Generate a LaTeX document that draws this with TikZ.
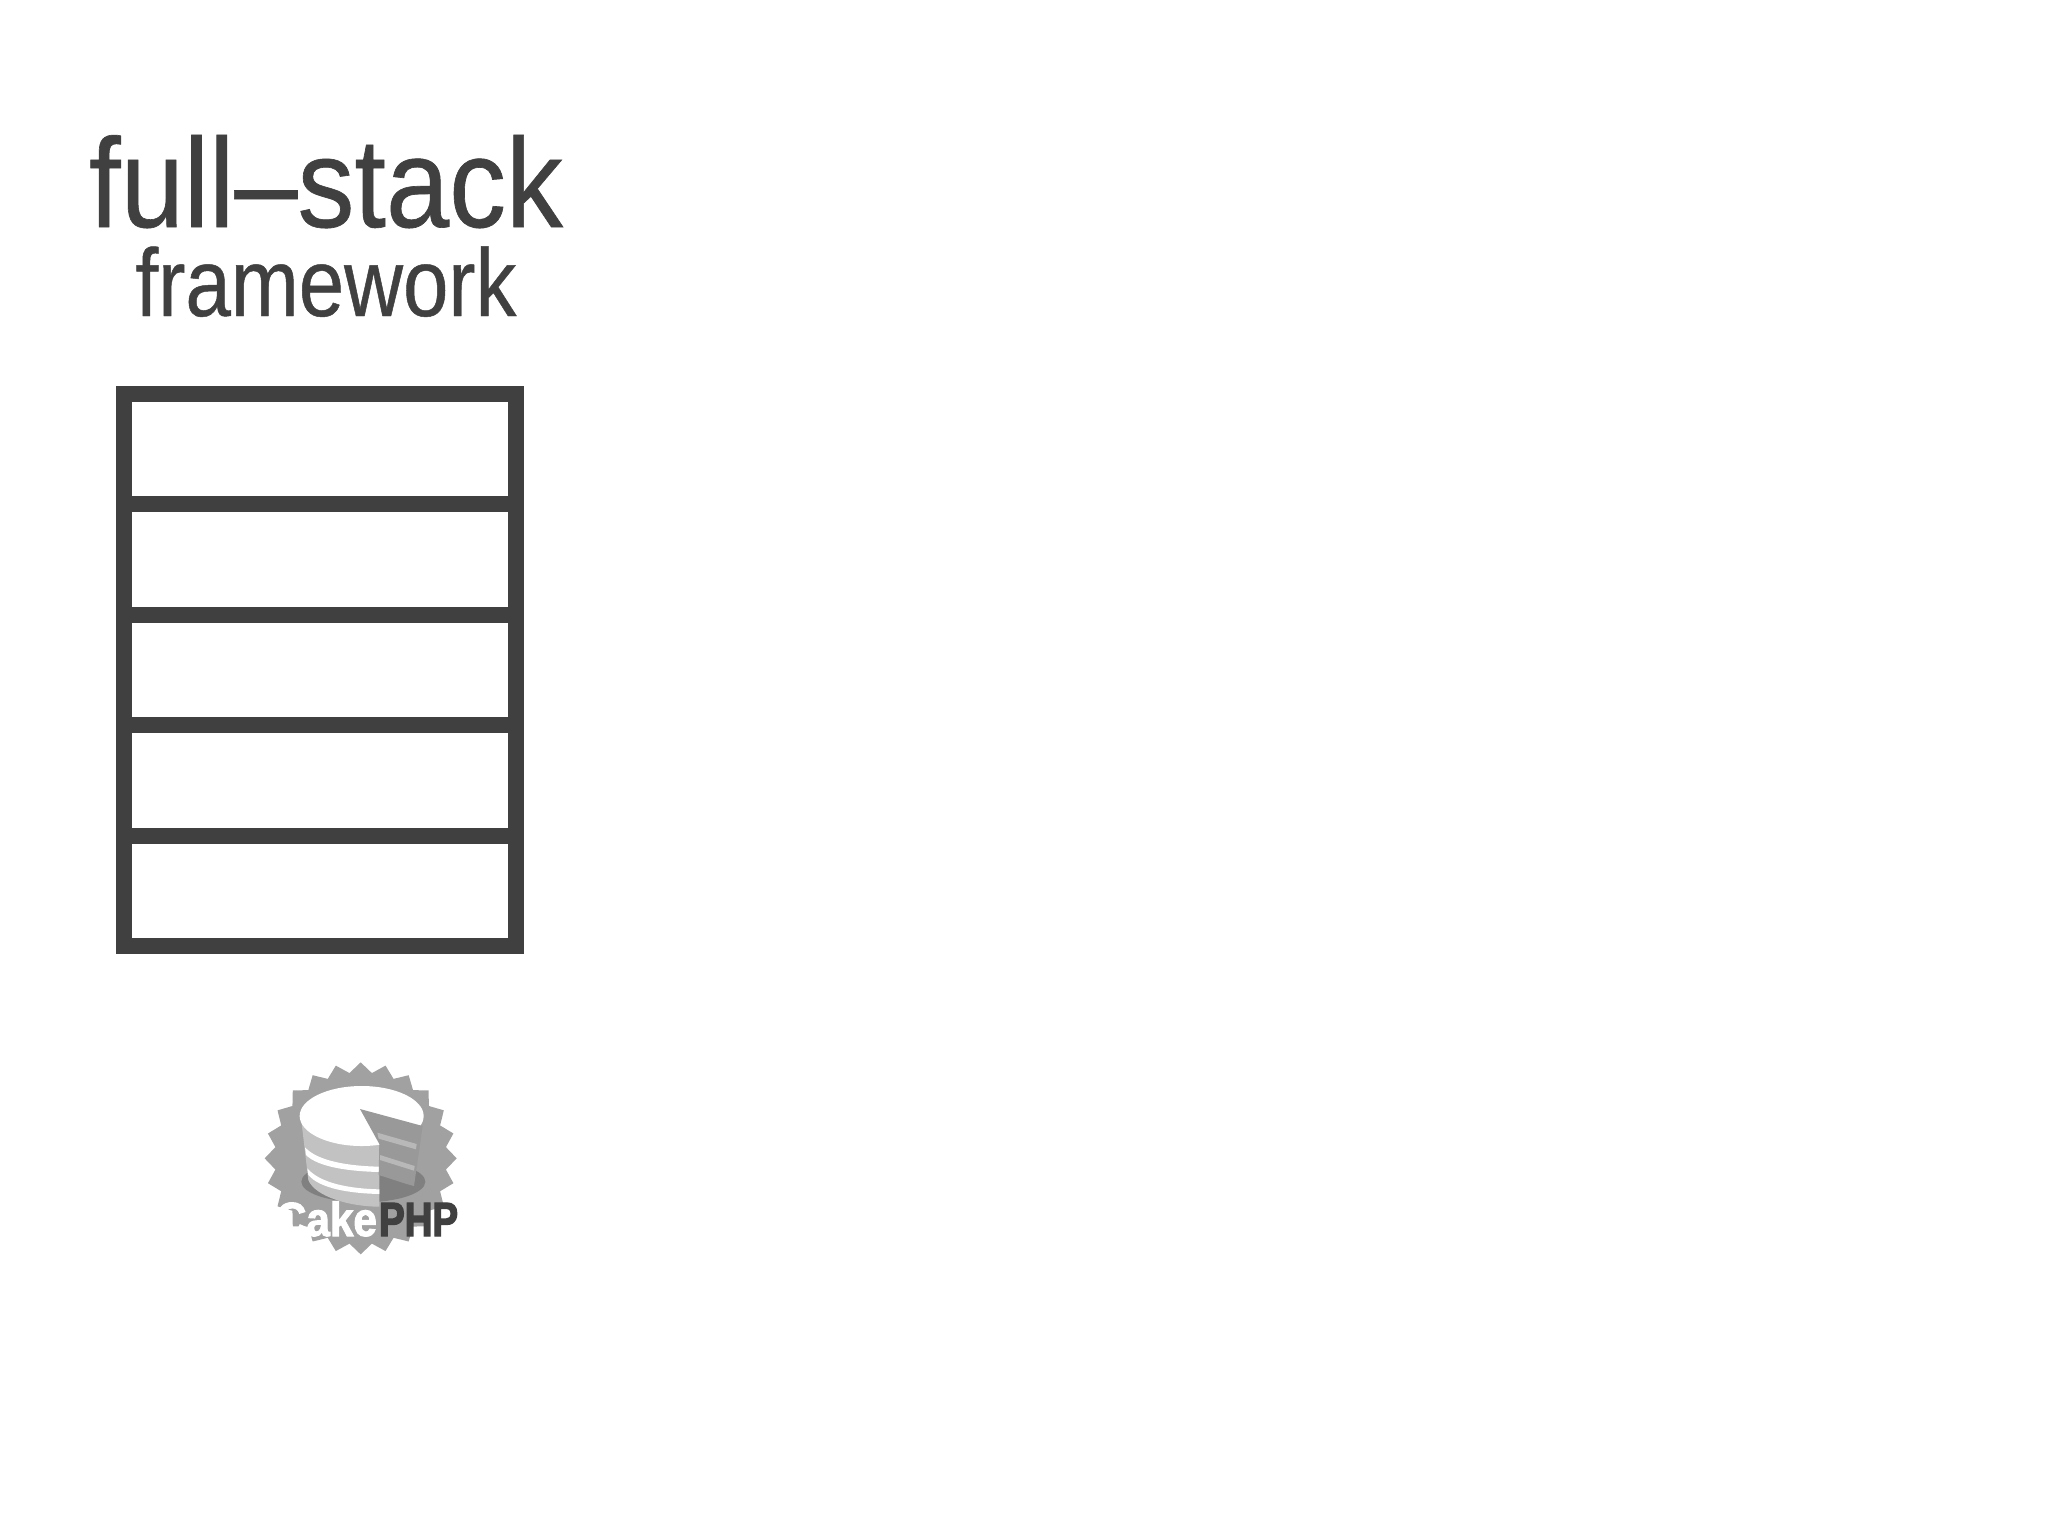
\documentclass[tikz,border=0pt]{standalone}
\usepackage{fontspec}
\setmainfont{Liberation Sans}
\newfontfamily\titlefont{Liberation Sans}[FakeStretch=0.895,FakeBold=0.5]
\newfontfamily\subfont{Liberation Sans}[FakeStretch=0.85,FakeBold=0.5]
\newfontfamily\cakefont{Liberation Sans}[FakeStretch=0.88,FakeBold=2,BoldFont={Liberation Sans Bold}]
\newfontfamily\phpfont{Liberation Sans}[FakeStretch=0.80,FakeBold=3,BoldFont={Liberation Sans Bold}]
\definecolor{ink}{HTML}{404040}
\tikzset{
  cell/.style={draw=ink,line width=8pt,inner sep=0pt,outer sep=0pt,minimum width=196pt,minimum height=55.2pt},
  title/.style={text=ink,inner sep=0pt,anchor=base},
  logotext/.style={inner sep=0pt},
}
\begin{document}
\begin{tikzpicture}[x=0.5pt,y=-0.5pt]
\useasboundingbox (0,0) rectangle (2048,1536);
\node[title,font=\titlefont\fontsize{63.5}{70}\selectfont] (t1) at (326,227) {full–stack};
\node[title,font=\subfont\fontsize{48}{54}\selectfont] (t2) at (326,316) {framework};
\node[cell] (c1) at (320,449.2) {};
\node[cell] (c2) at (320,559.6) {};
\node[cell] (c3) at (320,670) {};
\node[cell] (c4) at (320,780.4) {};
\node[cell] (c5) at (320,890.8) {};
\begin{scope}[shift={(240,1040)},x=0.16667pt,y=-0.16667pt]
  % seal
  \begin{scope}[shift={(362,355)}]
    \fill[black!37] plot[samples at={0,...,47},variable=\k] ({\k*7.5}:{258+30*mod(\k+1,2)}) -- cycle;
  \end{scope}
  % shadow
  \fill[black!50] (370,425) ellipse [x radius=186,y radius=62];
  % cake body
  \fill[black!24] (182,225) -- (205,420) .. controls (225,470) and (330,500) .. (418,500) -- (418,225) -- cycle;
  \fill[white] (195,322) .. controls (235,365) and (330,378) .. (418,380) -- (418,396) .. controls (330,394) and (235,382) .. (198,345) -- cycle;
  \fill[white] (202,385) .. controls (240,430) and (330,446) .. (418,448) -- (418,462) .. controls (330,460) and (240,446) .. (205,405) -- cycle;
  % top
  \fill[white] (365,228) ellipse [x radius=186,y radius=90];
  % slice
  \fill[black!40] (360,207) -- (548,258) -- (522,438) .. controls (490,430) and (450,415) .. (416,405) -- (418,312) -- cycle;
  \fill[black!28] (412,278) -- (530,312) -- (528,328) -- (416,296) -- cycle;
  \fill[black!28] (420,345) -- (524,378) -- (522,392) -- (420,360) -- cycle;
  % wordmark
  \node[logotext,text=white,anchor=base east,font=\cakefont\bfseries\fontsize{24}{26}\selectfont] (cake) at (412,588) {Cake};
  \node[logotext,text=ink,anchor=base west,font=\phpfont\bfseries\fontsize{24}{26}\selectfont] (php) at (416,588) {PHP};
\end{scope}
\end{tikzpicture}
\end{document}
